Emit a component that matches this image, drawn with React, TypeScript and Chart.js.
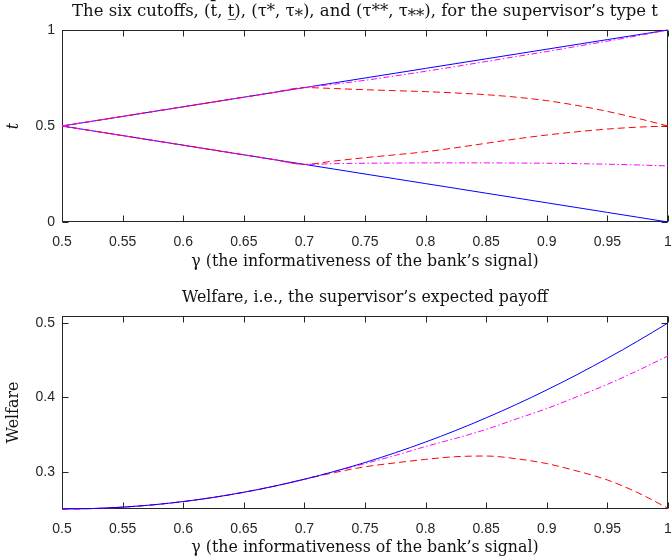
import React, { useEffect, useRef } from "react";
import { Chart, registerables } from "chart.js";
Chart.register(...registerables);

// ---------- data ----------
const gamma = [
  0.5, 0.525, 0.55, 0.575, 0.6, 0.625, 0.65, 0.675, 0.7, 0.725, 0.75,
  0.775, 0.8, 0.825, 0.85, 0.875, 0.9, 0.925, 0.95, 0.975, 1,
];
const xTickValues = [0.5, 0.55, 0.6, 0.65, 0.7, 0.75, 0.8, 0.85, 0.9, 0.95, 1];
const xTickLabels = ["0.5", "0.55", "0.6", "0.65", "0.7", "0.75", "0.8", "0.85", "0.9", "0.95", "1"];
const cutoffYTicks = [0, 0.5, 1];
const cutoffYLabels = ["0", "0.5", "1"];
const welfareYTicks = [0.3, 0.4, 0.5];
const welfareYLabels = ["0.3", "0.4", "0.5"];

// cutoffs (top panel)
const tBar = [
  0.5, 0.525, 0.55, 0.575, 0.6, 0.625, 0.65, 0.675, 0.7, 0.725, 0.75,
  0.775, 0.8, 0.825, 0.85, 0.875, 0.9, 0.925, 0.95, 0.975, 1,
];
const tUnder = [
  0.5, 0.475, 0.45, 0.425, 0.4, 0.375, 0.35, 0.325, 0.3, 0.275, 0.25,
  0.225, 0.2, 0.175, 0.15, 0.125, 0.1, 0.075, 0.05, 0.025, 0,
];
const tauStarHi = [
  0.5, 0.525, 0.55, 0.575, 0.6, 0.625, 0.65, 0.675, 0.7, 0.718, 0.738,
  0.761, 0.785, 0.81, 0.836, 0.862, 0.888, 0.915, 0.942, 0.97, 1,
];
const tauStarLo = [
  0.5, 0.475, 0.45, 0.425, 0.4, 0.375, 0.35, 0.325, 0.3, 0.304, 0.306,
  0.307, 0.308, 0.308, 0.308, 0.307, 0.306, 0.304, 0.301, 0.297, 0.292,
];
const tauSSHi = [
  0.5, 0.525, 0.55, 0.575, 0.6, 0.625, 0.65, 0.675, 0.7, 0.695, 0.689,
  0.684, 0.679, 0.672, 0.663, 0.65, 0.632, 0.607, 0.576, 0.54, 0.5,
];
const tauSSLo = [
  0.5, 0.475, 0.45, 0.425, 0.4, 0.375, 0.35, 0.325, 0.3, 0.318, 0.335,
  0.35, 0.366, 0.387, 0.41, 0.433, 0.453, 0.47, 0.484, 0.494, 0.5,
];

// welfare (bottom panel)
const welfareFull = [
  0.25, 0.2506, 0.2525, 0.2556, 0.26, 0.2656, 0.2725, 0.2806, 0.29, 0.3006, 0.3125,
  0.3256, 0.34, 0.3556, 0.3725, 0.3906, 0.41, 0.4306, 0.4525, 0.4756, 0.5,
];
const welfareStar = [
  0.25, 0.2506, 0.2525, 0.2556, 0.26, 0.2656, 0.2725, 0.2806, 0.29, 0.3005, 0.311,
  0.322, 0.334, 0.345, 0.357, 0.371, 0.385, 0.401, 0.4175, 0.436, 0.4556,
];
const welfareSS = [
  0.25, 0.2506, 0.2525, 0.2556, 0.26, 0.2656, 0.2725, 0.2806, 0.29, 0.299, 0.3067,
  0.312, 0.3167, 0.3203, 0.3212, 0.3175, 0.311, 0.301, 0.289, 0.272, 0.251,
];

// ---------- styling ----------
const BLUE = "#0000ff";
const RED = "#ff0000";
const MAGENTA = "#ff00ff";
const AXIS = "#262626";
const SERIF = "'DejaVu Serif', 'Liberation Serif', serif";
const SANS = "'Liberation Sans', Arial, sans-serif";
const SERIF_SIZE = 15.8;
const DASH = [7, 4];
const DASHDOT = [6, 2.5, 1.5, 2.5];

const framePlugin = {
  id: "matlabFrame",
  beforeDatasetsDraw(chart: any) {
    const { ctx, chartArea: a, scales } = chart;
    ctx.save();
    ctx.strokeStyle = AXIS;
    ctx.lineWidth = 1;
    const L = Math.round(a.left) + 0.5;
    const R = Math.round(a.right) - 0.5;
    const T = Math.round(a.top) + 0.5;
    const B = Math.round(a.bottom) - 0.5;
    ctx.strokeRect(L, T, R - L, B - T);
    ctx.beginPath();
    const len = 6;
    scales.x.ticks.forEach((t: any) => {
      const px = Math.round(scales.x.getPixelForValue(t.value)) + 0.5;
      ctx.moveTo(px, B);
      ctx.lineTo(px, B - len);
      ctx.moveTo(px, T);
      ctx.lineTo(px, T + len);
    });
    scales.y.ticks.forEach((t: any) => {
      const py = Math.round(scales.y.getPixelForValue(t.value)) + 0.5;
      ctx.moveTo(L, py);
      ctx.lineTo(L + len, py);
      ctx.moveTo(R, py);
      ctx.lineTo(R - len, py);
    });
    ctx.stroke();
    ctx.restore();
  },
};

function ds(data: number[], color: string, dash: number[]) {
  return {
    data: gamma.map((g, i) => ({ x: g, y: data[i] })),
    borderColor: color,
    borderWidth: 1,
    borderDash: dash,
    pointRadius: 0,
    fill: false,
    clip: 2,
    cubicInterpolationMode: "monotone" as const,
  };
}

function makeOptions(p: {
  title: string;
  titleSize: number;
  titlePadTop: number;
  titlePadBottom: number;
  yTitle: string;
  yItalic: boolean;
  yMin: number;
  yMax: number;
  yTicks: number[];
  yLabels: string[];
  xHeight: number;
  xTitlePadBottom: number;
}) {
  return {
    responsive: false,
    animation: false,
    devicePixelRatio: 1,
    layout: { padding: { left: 0, right: 4, top: 0, bottom: 0 } },
    plugins: {
      legend: { display: false },
      tooltip: { enabled: false },
      title: {
        display: true,
        text: p.title,
        fullSize: false,
        color: "#111",
        font: { family: SERIF, size: p.titleSize, weight: "normal", lineHeight: 1.2 },
        padding: { top: p.titlePadTop, bottom: p.titlePadBottom },
      },
    },
    scales: {
      x: {
        type: "linear",
        min: 0.5,
        max: 1,
        grid: { display: false, drawTicks: false },
        border: { display: false },
        afterBuildTicks: (s: any) => {
          s.ticks = xTickValues.map((v) => ({ value: v }));
        },
        afterFit: (s: any) => {
          s.height = p.xHeight;
          s.paddingLeft = 0;
          s.paddingRight = 0;
        },
        ticks: {
          padding: 12,
          maxRotation: 0,
          autoSkip: false,
          color: AXIS,
          font: { family: SANS, size: 14 },
          callback: (_v: any, i: number) => xTickLabels[i],
        },
        title: {
          display: true,
          text: "γ (the informativeness of the bank’s signal)",
          color: "#111",
          font: { family: SERIF, size: SERIF_SIZE, lineHeight: 1 },
          padding: { top: 0, bottom: p.xTitlePadBottom },
        },
      },
      y: {
        type: "linear",
        min: p.yMin,
        max: p.yMax,
        grid: { display: false, drawTicks: false },
        border: { display: false },
        afterBuildTicks: (s: any) => {
          s.ticks = p.yTicks.map((v) => ({ value: v }));
        },
        afterFit: (s: any) => {
          s.width = 62;
        },
        ticks: {
          padding: 7,
          color: AXIS,
          font: { family: SANS, size: 14 },
          callback: (_v: any, i: number) => p.yLabels[i],
        },
        title: {
          display: true,
          text: p.yTitle,
          color: "#111",
          font: { family: SERIF, size: SERIF_SIZE, style: p.yItalic ? "italic" : "normal", lineHeight: 1.2 },
          padding: { top: 4.5, bottom: 0 },
        },
      },
    },
  };
}

function ChartCanvas({ width, height, top, build }: { width: number; height: number; top: number; build: () => any }) {
  const ref = useRef<HTMLCanvasElement | null>(null);
  useEffect(() => {
    if (!ref.current) return;
    const chart = new Chart(ref.current, build());
    return () => chart.destroy();
  }, []);
  return (
    <canvas
      ref={ref}
      width={width}
      height={height}
      style={{ position: "absolute", left: 0, top, width, height, display: "block" }}
    />
  );
}

export default function App() {
  const buildTop = () => ({
    type: "line",
    data: {
      datasets: [
        ds(tauStarHi, MAGENTA, DASHDOT),
        ds(tauStarLo, MAGENTA, DASHDOT),
        ds(tauSSHi, RED, DASH),
        ds(tauSSLo, RED, DASH),
        ds(tBar, BLUE, []),
        ds(tUnder, BLUE, []),
      ],
    },
    options: makeOptions({
      title: "The six cutoffs, (t̄, t̲), (τ*, τ⁎), and (τ**, τ⁎⁎), for the supervisor’s type t",
      titleSize: 16.5,
      titlePadTop: 2,
      titlePadBottom: 8.2,
      yTitle: "t",
      yItalic: true,
      yMin: 0,
      yMax: 1,
      yTicks: cutoffYTicks,
      yLabels: cutoffYLabels,
      xHeight: 53,
      xTitlePadBottom: 5,
    }),
    plugins: [framePlugin],
  });

  const buildBottom = () => ({
    type: "line",
    data: {
      datasets: [
        ds(welfareFull, BLUE, []),
        ds(welfareStar, MAGENTA, DASHDOT),
        ds(welfareSS, RED, DASH),
      ],
    },
    options: makeOptions({
      title: "Welfare, i.e., the supervisor’s expected payoff",
      titleSize: SERIF_SIZE,
      titlePadTop: 13.5,
      titlePadBottom: 8.5,
      yTitle: "Welfare",
      yItalic: false,
      yMin: 0.25,
      yMax: 0.5094,
      yTicks: welfareYTicks,
      yLabels: welfareYLabels,
      xHeight: 47,
      xTitlePadBottom: 0,
    }),
    plugins: [framePlugin],
  });

  return (
    <div style={{ position: "absolute", left: 0, top: 0, width: 672, height: 556, overflow: "hidden", background: "#fff" }}>
      <ChartCanvas width={672} height={275} top={0} build={buildTop} />
      <ChartCanvas width={672} height={281} top={275} build={buildBottom} />
    </div>
  );
}
